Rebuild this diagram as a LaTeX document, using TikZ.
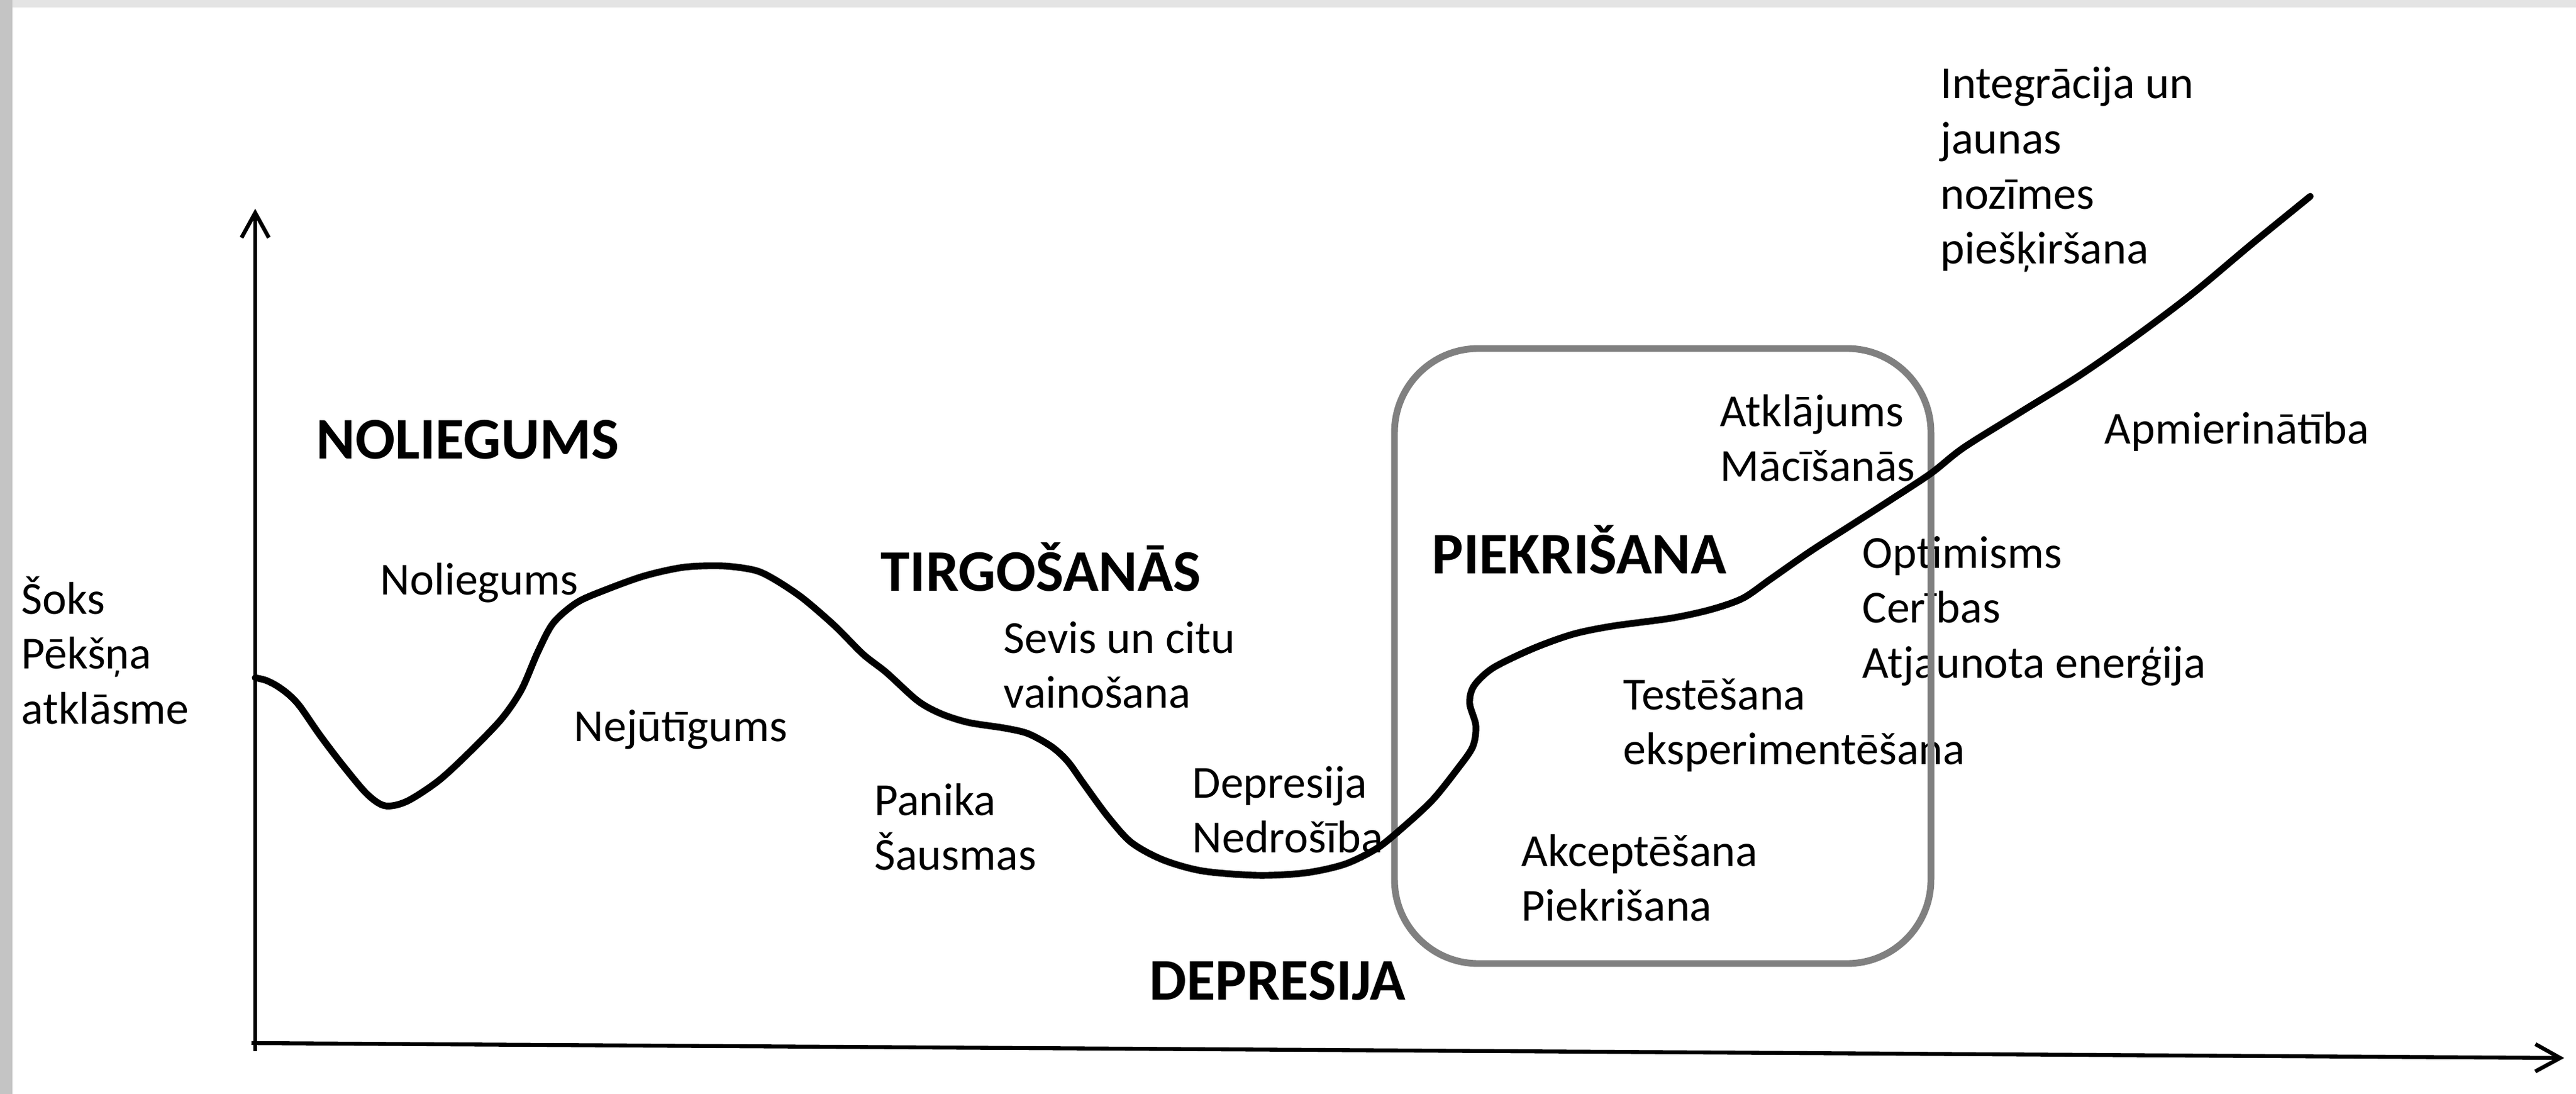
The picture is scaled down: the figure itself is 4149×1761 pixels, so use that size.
\documentclass[tikz,border=0pt]{standalone}
\usepackage{fontspec}
\setmainfont{Carlito}
\usetikzlibrary{arrows.meta}
\newcommand{\mlines}[1]{\begin{tabular}[t]{@{}l@{}}#1\end{tabular}}
\definecolor{zonegray}{RGB}{128,128,128}
\definecolor{edgegray}{RGB}{196,196,196}
\definecolor{edgegraylt}{RGB}{228,228,228}
\begin{document}
\begin{tikzpicture}[x=0.01cm,y=-0.01cm,
  lbl/.style={anchor=base west, inner sep=0pt, font=\fontsize{21}{25.2}\selectfont},
  head/.style={anchor=base west, inner sep=0pt, font=\fontsize{27}{32}\selectfont\bfseries},
  axis/.style={line width=1.8pt, -{Straight Barb[length=0.4cm,width=0.44cm]}},
  curve/.style={line width=3.1pt, line cap=round, line join=round},
  zone/.style={draw=zonegray, line width=3.1pt, rounded corners=1.35cm}]
\useasboundingbox (0,0) rectangle (4149,1761);
\fill[white] (0,0) rectangle (4149,1761);
\fill[edgegraylt] (0,0) rectangle (4149,12);
\fill[edgegray] (0,0) rectangle (20,1761);

% texts
\node[lbl] (shock) at (34,988) {\mlines{Šoks\\Pēkšņa\\atklāsme}};
\node[head] (h1) at (509,738) {NOLIEGUMS};
\node[lbl] (t1) at (612,957) {Noliegums};
\node[lbl] (t2) at (924,1193) {Nejūtīgums};
\node[head] (h2) at (1418,951) {TIRGOŠANĀS};
\node[lbl] (t3) at (1616,1051) {\mlines{Sevis un citu\\vainošana}};
\node[lbl] (t4) at (1408,1312) {\mlines{Panika\\Šausmas}};
\node[lbl] (t5) at (1920,1284) {\mlines{Depresija\\Nedrošība}};
\node[head] (h3) at (2306,923) {PIEKRIŠANA};
\node[lbl] (t6) at (2614,1142) {\mlines{Testēšana\\eksperimentēšana}};
\node[lbl] (t7) at (2450,1394) {\mlines{Akceptēšana\\Piekrišana}};
\node[head] (h4) at (1851,1609) {DEPRESIJA};
\node[lbl] (t8) at (3125,159) {\mlines{Integrācija un\\jaunas\\nozīmes\\piešķiršana}};
\node[lbl] (t9) at (2770,686) {\mlines{Atklājums\\Mācīšanās}};
\node[lbl] (t10) at (3389,714) {Apmierinātība};
\node[lbl] (t11) at (2999,914) {\mlines{Optimisms\\Cerības\\Atjaunota enerģija}};

% acceptance zone
\draw[zone] (2246,561) rectangle (3110,1551);

% axes
\coordinate (yb) at (411,1692);
\coordinate (yt) at (411,336);
\coordinate (xl) at (405,1679);
\coordinate (xr) at (4130,1703);
\draw[axis] (yb) -- (yt);
\draw[axis] (xl) -- (xr);

% change curve
\draw[curve] plot[smooth, tension=0.5] coordinates {
(411,1091) (428,1095) (446,1104) (465,1118) (483,1137) (515,1183) (553,1233)
(591,1278) (620,1297) (655,1290) (706,1257) (757,1210) (808,1157) (840,1110)
(866,1050) (891,1003) (929,970) (974,950) (1038,927) (1102,913) (1165,911)
(1216,918) (1248,933) (1293,963) (1344,1007) (1390,1053) (1427,1082) (1478,1128)
(1516,1149) (1560,1163) (1618,1172) (1656,1181) (1694,1202) (1720,1226)
(1745,1261) (1784,1314) (1822,1356) (1873,1384) (1937,1402) (2026,1409)
(2103,1405) (2166,1391) (2217,1366) (2256,1335) (2307,1288) (2348,1237)
(2372,1202) (2377,1168) (2367,1132) (2374,1104) (2405,1075) (2469,1044)
(2533,1021) (2596,1008) (2692,995) (2756,981) (2807,963) (2852,932)
(2915,888) (2979,847) (3043,806) (3110,762) (3162,721) (3255,663)
(3347,606) (3439,542) (3532,472) (3624,395) (3721,316)};
\end{tikzpicture}
\end{document}
